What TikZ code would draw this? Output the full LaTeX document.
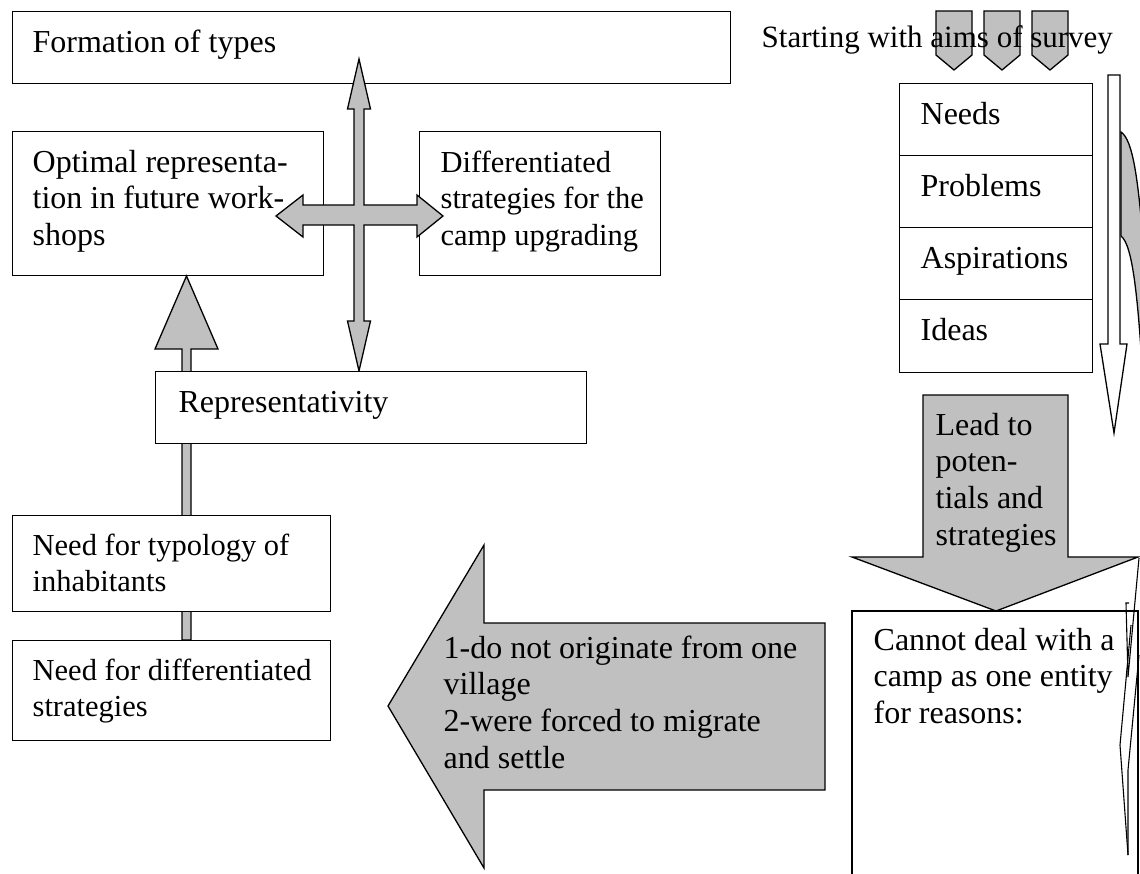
\documentclass[tikz,border=0pt]{standalone}
\usepackage{fontspec}
\setmainfont{Liberation Serif}
\definecolor{silver}{RGB}{192,192,192}
\begin{document}
\begin{tikzpicture}[x=1pt,y=-1pt,line width=1.3pt,line join=miter,
  rect/.style={draw,fill=white,inner sep=0pt,anchor=north west},
  txt/.style={anchor=base west,inner sep=0pt,align=left,font=\fontsize{32}{36.8}\selectfont},
  smalltxt/.style={txt,font=\fontsize{30.5}{36.8}\selectfont},
  blockarrow/.style={draw,fill=silver},
  hollowarrow/.style={draw,fill=white},
  thinline/.style={draw,line width=1.1pt}]
\useasboundingbox (0,0) rectangle (1140,873);
% (multi-line labels are placed by the baseline of their last line)

% curved band next to the long hollow arrow (clipped at the page edge)
\begin{scope}
  \clip (1100,0) rectangle (1140,873);
  \path[blockarrow] (1121,132) .. controls (1133,140) and (1138,180) .. (1143,240)
     -- (1143,380) .. controls (1138,300) and (1133,245) .. (1121,236) -- cycle;
\end{scope}

% long hollow downward arrow beside the list
\path[hollowarrow] (1108,75) -- (1120,75) -- (1120,344) -- (1127,344) -- (1114,433)
   -- (1100,344) -- (1108,344) -- cycle;

% list of survey aims
\node[rect,minimum width=193pt,minimum height=72pt] (needs) at (899,83) {};
\node[rect,minimum width=193pt,minimum height=72pt] (problems) at (899,155) {};
\node[rect,minimum width=193pt,minimum height=72pt] (aspirations) at (899,227) {};
\node[rect,minimum width=193pt,minimum height=73pt] (ideas) at (899,299) {};
\node[txt] (tneeds) at (920,124) {Needs};
\node[txt] (tproblems) at (920,196) {Problems};
\node[txt] (taspirations) at (920,268) {Aspirations};
\node[txt] (tideas) at (920,340) {Ideas};

% three small chevrons under the heading
\foreach \cx in {936,984,1032}
  \path[blockarrow] (\cx,11) -- (\cx+36,11) -- (\cx+36,55) -- (\cx+18,70) -- (\cx,55) -- cycle;
\node[txt,font=\fontsize{31}{36}\selectfont] (tstart) at (761,47) {Starting with aims of survey};

% top box
\node[rect,minimum width=718pt,minimum height=72pt] (form) at (12,11) {};
\node[txt] (tform) at (32,52) {Formation of types};

% upper boxes
\node[rect,minimum width=311pt,minimum height=144pt] (optimal) at (12,131) {};
\node[txt] (toptimal) at (32,245.6) {Optimal representa-\\tion in future work-\\shops};
\node[rect,minimum width=241pt,minimum height=144pt] (diffstrat) at (419,131) {};
\node[smalltxt] (tdiffstrat) at (440,245.6) {Differentiated\\strategies for the\\camp upgrading};

% four-way arrow
\path[blockarrow] (359,59) -- (370.5,109) -- (364,109) -- (364,205) -- (417,205)
   -- (417,195) -- (443,216) -- (417,237) -- (417,225) -- (364,225) -- (364,321)
   -- (370.5,321) -- (359,371) -- (347.5,321) -- (354,321) -- (354,225) -- (303,225)
   -- (303,237) -- (276,216) -- (303,195) -- (303,205) -- (354,205) -- (354,109)
   -- (347.5,109) -- cycle;

% upward arrow on the left column
\path[blockarrow] (186.5,276) -- (218,349) -- (191,349) -- (191,640) -- (182,640)
   -- (182,349) -- (155,349) -- cycle;

% left column boxes
\node[rect,minimum width=431pt,minimum height=72pt] (repr) at (155,371) {};
\node[txt] (trepr) at (178,412) {Representativity};
\node[rect,minimum width=318pt,minimum height=96pt] (typology) at (12,515) {};
\node[smalltxt] (ttypology) at (32,591.8) {Need for typology of\\inhabitants};
\node[rect,minimum width=318pt,minimum height=100pt] (needdiff) at (12,640) {};
\node[smalltxt] (tneeddiff) at (32,716.8) {Need for differentiated\\strategies};

% big arrow pointing left with the reasons
\path[blockarrow] (825,623) -- (825,790) -- (484,790) -- (484,868) -- (388,706)
   -- (484,545) -- (484,623) -- cycle;
\node[txt] (treasons) at (443,768.4) {1-do not originate from one\\village\\2-were forced to migrate\\and settle};

% arrow leading down to the last box
\node[rect,draw=none,minimum width=286pt,minimum height=270pt] (cannot) at (852,611) {};
\draw (852,880) -- (852,611) -- (1138,611) -- (1138,880);
\path[blockarrow] (923,395) -- (1068,395) -- (1068,557) -- (1138,557) -- (996,611)
   -- (852,557) -- (923,557) -- cycle;
\node[txt] (tlead) at (935,545.4) {Lead to\\poten-\\tials and\\strategies};
\node[txt] (tcannot) at (873,723.6) {Cannot deal with a\\camp as one entity\\for reasons:};

% thin outlined arrow along the right edge
\draw[thinline] (1139,558) -- (1128,677) -- (1126,603) -- (1129,603);
\draw[thinline] (1139,655) -- (1128,770) -- (1128,855);
\draw[thinline] (1131,625) -- (1120,745) -- (1128,855);
\end{tikzpicture}
\end{document}
